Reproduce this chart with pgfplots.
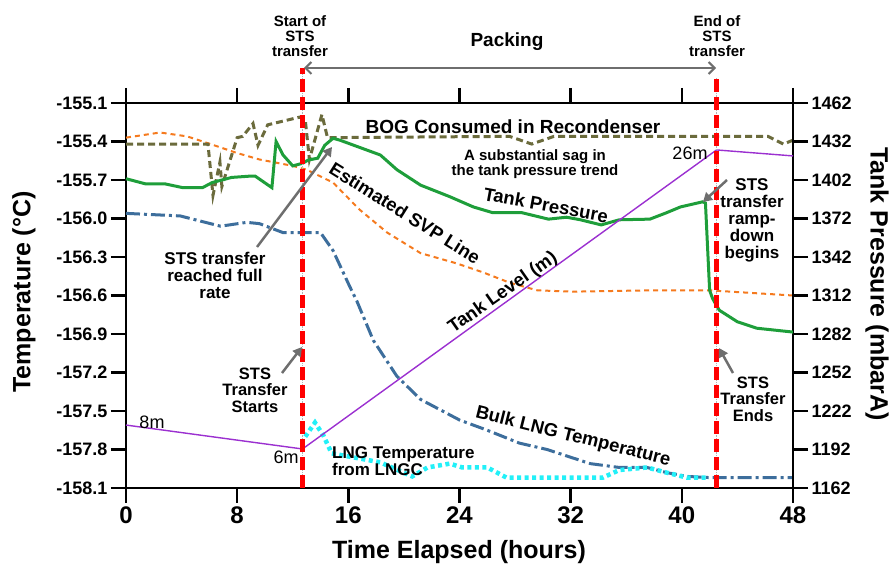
\documentclass[border=0pt]{standalone}
\usepackage{fontspec}
\setmainfont{Liberation Sans}
\usepackage{pgfplots}
\pgfplotsset{compat=1.18}
\usetikzlibrary{arrows.meta}

\definecolor{presgreen}{HTML}{1E9E3A}
\definecolor{bogolive}{HTML}{6B6B3C}
\definecolor{svporange}{HTML}{F57A1E}
\definecolor{bulkblue}{HTML}{3D6E9C}
\definecolor{lngcyan}{HTML}{22F0F8}
\definecolor{levelpurple}{HTML}{9B30D0}
\definecolor{arrowgray}{HTML}{6E6E6E}

\newcommand\fs[1]{\fontsize{#1}{#1}\selectfont}

\pgfplotsset{
  base/.style={width=667pt, height=385pt, scale only axis,
    at={(126pt,80pt)}, anchor=south west, xmin=0, xmax=48, clip=false},
}
\tikzset{
  note/.style={font=\fs{17}\bfseries, align=center, inner sep=0pt},
  pointer/.style={arrowgray, line width=2.5pt, -{Triangle[length=9pt,width=10pt]}},
}

\begin{document}
\begin{tikzpicture}
\path[use as bounding box] (0pt,0pt) rectangle (889pt,568pt);

% main axis: temperatures
\begin{axis}[base, ymin=-158.1, ymax=-155.1,
  xtick={0,8,16,24,32,40,48}, xticklabels={0,8,16,24,32,40,48},
  xtick pos=both, xticklabel pos=lower,
  ytick={-158.1,-157.8,-157.5,-157.2,-156.9,-156.6,-156.3,-156.0,-155.7,-155.4,-155.1},
  yticklabels={-158.1,-157.8,-157.5,-157.2,-156.9,-156.6,-156.3,-156.0,-155.7,-155.4,-155.1},
  ytick pos=left,
  tick align=outside, major tick length=15pt,
  every tick/.style={black, line width=2.5pt},
  axis line style={line width=2.8pt},
  yticklabel style={font=\fs{18}\bfseries},
  xticklabel style={font=\fs{24}\bfseries},
]
% estimated SVP line
\addplot[svporange, line width=2pt, dash pattern=on 5pt off 4pt] coordinates {
(0,-155.37) (2.45,-155.33) (4.4,-155.36) (5.8,-155.41) (8.0,-155.49) (9.6,-155.54)
(12.0,-155.59) (13.0,-155.62) (14.9,-155.72) (16.8,-155.93) (18.8,-156.11) (21.2,-156.27)
(23.8,-156.35) (25.7,-156.42) (27.6,-156.50) (29.6,-156.56) (32.2,-156.57) (37.7,-156.56)
(42.0,-156.56) (48,-156.60)};
% BOG consumed in recondenser
\addplot[bogolive, line width=3pt, dash pattern=on 7pt off 4pt] coordinates {
(0,-155.42) (5.9,-155.42) (6.26,-155.82) (6.76,-155.56) (6.9,-155.75) (8.0,-155.37)
(8.4,-155.36) (9.14,-155.26) (9.5,-155.43) (10.2,-155.27) (12.5,-155.21) (12.9,-155.23)
(13.2,-155.54) (14.1,-155.19) (14.5,-155.37) (27.6,-155.36) (29.2,-155.42) (30.8,-155.36)
(46.2,-155.36) (47.3,-155.42) (48,-155.39)};
% bulk LNG temperature
\addplot[bulkblue, line width=3pt, dash pattern=on 14pt off 4pt on 3pt off 4pt] coordinates {
(0,-155.96) (3.9,-155.98) (6.8,-156.06) (8.7,-156.03) (9.6,-156.04) (11.3,-156.11)
(14.0,-156.11) (14.9,-156.25) (16.1,-156.53) (16.6,-156.64) (17.8,-156.95) (19.5,-157.23)
(21.2,-157.41) (24.0,-157.57) (26.0,-157.65) (28.3,-157.75) (30.3,-157.80) (33.4,-157.91)
(35.5,-157.94) (37.5,-157.94) (38.9,-157.98) (40.4,-158.01) (42.2,-158.02) (48,-158.02)};
% LNG temperature from LNGC
\addplot[lngcyan, line width=4.5pt, dash pattern=on 4pt off 3.5pt] coordinates {
(12.9,-157.70) (13.6,-157.59) (14.2,-157.69) (14.8,-157.83) (16.3,-157.86) (18.3,-157.90)
(20.6,-158.01) (21.7,-157.94) (23.3,-157.91) (24.2,-157.94) (26.0,-157.94) (27.4,-158.02)
(34.3,-158.02) (35.5,-157.96) (37.5,-157.94) (38.9,-157.98) (40.4,-158.02) (41.8,-158.02)};
\end{axis}

% right axis: tank pressure
\begin{axis}[base, ymin=1162, ymax=1462,
  axis x line=none, axis y line*=right,
  ytick={1162,1192,1222,1252,1282,1312,1342,1372,1402,1432,1462},
  yticklabels={1162,1192,1222,1252,1282,1312,1342,1372,1402,1432,1462},
  tick align=outside, major tick length=15pt,
  every tick/.style={black, line width=2.5pt},
  axis line style={line width=2.8pt},
  yticklabel style={font=\fs{18}\bfseries},
]
\addplot[presgreen, line width=3pt] coordinates {
(0,1403) (1.4,1399) (2.8,1399) (4.1,1396) (5.5,1396) (6.2,1400) (7.6,1404) (8.9,1405)
(9.3,1405) (10.5,1396) (10.8,1432) (11.3,1421.5) (12.0,1413) (12.7,1415) (13.1,1417.5)
(13.8,1419) (14.3,1429) (14.9,1434.5) (15.4,1433) (18.3,1421.5) (19.5,1410) (21.2,1398)
(23.3,1389) (25.0,1381) (26.4,1376.5) (28.5,1376.5) (30.4,1371.5) (31.7,1373) (32.7,1371)
(34.2,1367) (35.5,1371) (37.7,1371.5) (38.9,1376.5) (39.9,1381) (41.5,1385) (41.7,1384)
(42.0,1316) (42.2,1310) (42.4,1306) (42.7,1300.5) (44.0,1291.5) (45.4,1286.5) (48,1283.5)};
\end{axis}

% hidden axis: tank level (m)
\begin{axis}[base, hide axis, ymin=3.39, ymax=29.14]
\addplot[levelpurple, line width=1.4pt] coordinates {(0,7.6) (12.7,6) (42.5,26) (48,25.6)};
\end{axis}

% hidden axis: STS transfer start / end markers
\begin{axis}[base, hide axis, ymin=-158.1, ymax=-155.1]
\addplot[gray!60, line width=0.7pt, densely dotted] coordinates {(12.7,-158.1) (12.7,-154.83)};
\addplot[red, line width=5pt, dash pattern=on 13pt off 5pt] coordinates {(12.7,-158.1) (12.7,-154.83)};
\addplot[gray!60, line width=0.7pt, densely dotted] coordinates {(42.5,-158.1) (42.5,-154.90)};
\addplot[red, line width=5pt, dash pattern=on 13pt off 5pt] coordinates {(42.5,-158.1) (42.5,-154.90)};
\end{axis}

% axis titles
\node[font=\fs{25}\bfseries, rotate=90] at (24pt,276pt) {Temperature (°C)};
\node[font=\fs{25}\bfseries, rotate=-90] at (877pt,284pt) {Tank Pressure (mbarA)};
\node[font=\fs{25}\bfseries] at (459pt,16pt) {Time Elapsed (hours)};

% top annotations
\node[note, font=\fs{15}\bfseries] at (300pt,532pt) {Start of\\STS\\transfer};
\node[note, font=\fs{15}\bfseries] at (717pt,532pt) {End of\\STS\\transfer};
\node[note, font=\fs{19}\bfseries] at (507pt,526pt) {Packing};
\draw[arrowgray, line width=2pt, {Straight Barb[length=6pt,width=12pt]}-{Straight Barb[length=6pt,width=12pt]}]
  (304pt,500pt) -- (716pt,500pt);

% series labels
\node[note, font=\fs{19}\bfseries] at (513pt,441pt) {BOG Consumed in Recondenser};
\node[note, font=\fs{15}\bfseries] at (535pt,404pt) {A substantial sag in\\the tank pressure trend};
\node[note, font=\fs{18.5}\bfseries, rotate=-10.5] at (546pt,363pt) {Tank Pressure};
\node[note, font=\fs{18.5}\bfseries, rotate=-32] at (405pt,355pt) {Estimated SVP Line};
\node[note, font=\fs{18.5}\bfseries, rotate=35] at (503pt,275pt) {Tank Level (m)};
\node[note, font=\fs{18.5}\bfseries, rotate=-14] at (573pt,131pt) {Bulk LNG Temperature};
\node[note, align=left, anchor=west] at (332pt,107pt) {LNG Temperature\\from LNGC};
\node[font=\fs{18}, inner sep=0pt] at (152pt,146pt) {8m};
\node[font=\fs{18}, inner sep=0pt] at (286pt,111pt) {6m};
\node[font=\fs{18}, inner sep=0pt] at (690pt,415pt) {26m};

% event notes with pointers
\node[note] at (215pt,293pt) {STS transfer\\reached full\\rate};
\draw[pointer] (257pt,321pt) -- (332pt,421pt);
\node[note, font=\fs{16.5}\bfseries] at (255pt,178pt) {STS\\Transfer\\Starts};
\draw[pointer] (282pt,195pt) -- (302pt,221pt);
\node[note] at (752pt,348pt) {STS\\transfer\\ramp-\\down\\begins};
\draw[pointer] (727pt,388pt) -- (703pt,366pt);
\node[note, font=\fs{16.5}\bfseries] at (753pt,169pt) {STS\\Transfer\\Ends};
\draw[pointer] (733pt,195pt) -- (719pt,220pt);
\end{tikzpicture}
\end{document}
